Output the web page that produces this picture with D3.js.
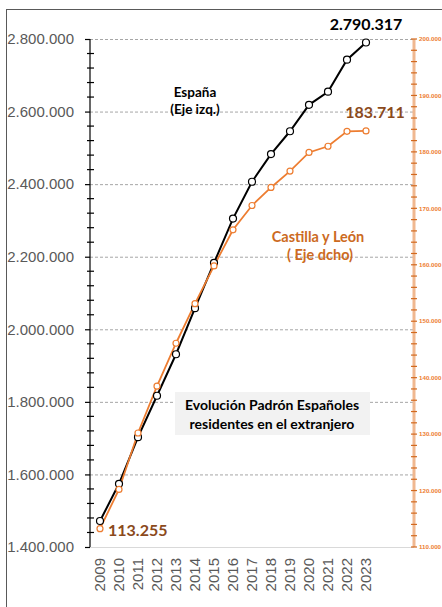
<!DOCTYPE html>
<html>
<head>
<meta charset="utf-8">
<script src="https://cdn.jsdelivr.net/npm/d3@7"></script>
<style>
    body { margin: 0; background: #fff; }
    svg { display: block; }
</style>
</head>
<body>
<svg id="chart" width="442" height="607"></svg>
<script>
// Data
let years = ['2009', '2010', '2011', '2012', '2013', '2014', '2015', '2016',
    '2017', '2018', '2019', '2020', '2021', '2022', '2023'];
let espana = [1471691, 1574123, 1702778, 1816835, 1931248, 2058048, 2183043,
    2305030, 2406611, 2482808, 2545729, 2618592, 2654723, 2742998, 2790317];
let castilla = [113255, 120200, 130200, 138500, 146100, 153100, 159800, 166200,
    170500, 173700, 176600, 179900, 181000, 183650, 183711];
let leftTicks = [1400000, 1600000, 1800000, 2000000, 2200000, 2400000, 2600000, 2800000];
let rightTicks = [110000, 120000, 130000, 140000, 150000, 160000, 170000, 180000, 190000, 200000];

let fmt = (v) => d3.format(',')(v).replace(/,/g, '.');

let svg = d3.select('#chart');

// Outer chart frame (runs off the right and bottom of the picture)
svg.append('rect')
    .attr('x', 6.5).attr('y', 9.5)
    .attr('width', 600).attr('height', 700)
    .attr('fill', 'none')
    .attr('stroke', '#595959')
    .attr('stroke-width', 1);

// Scales
let x = d3.scalePoint().domain(years).range([100, 366]);
let yL = d3.scaleLinear().domain([1400000, 2800000]).range([547, 39]);
let yR = d3.scaleLinear().domain([110000, 200000]).range([547, 39]);
let plotLeft = 90, plotRight = 414;

// Gridlines
svg.append('g')
    .selectAll('line')
    .data(leftTicks.slice(1))
    .enter()
    .append('line')
    .attr('x1', plotLeft).attr('x2', plotRight)
    .attr('y1', (d) => yL(d) + 0.5).attr('y2', (d) => yL(d) + 0.5)
    .attr('stroke', '#A6A6A6')
    .attr('stroke-dasharray', '3,2');

// Bottom axis line
svg.append('line')
    .attr('x1', plotLeft).attr('x2', plotRight)
    .attr('y1', 547.5).attr('y2', 547.5)
    .attr('stroke', '#D9D9D9');

// Left axis
let leftAxis = svg.append('g')
    .attr('transform', `translate(${plotLeft},0)`)
    .call(d3.axisLeft(yL).tickValues(leftTicks).tickFormat(fmt).tickSize(5).tickPadding(11))
    .call((g) => g.select('.domain').remove());
leftAxis.selectAll('line').attr('stroke', '#000').attr('stroke-width', 1.2);
leftAxis.selectAll('text')
    .attr('font-family', 'Liberation Sans, Arial, sans-serif')
    .attr('font-size', 15)
    .attr('fill', '#595959');
leftAxis.append('line')
    .attr('y1', yL(2800000)).attr('y2', yL(1400000))
    .attr('stroke', '#000').attr('stroke-width', 1.2);
leftAxis.selectAll('.minor')
    .data(d3.range(1440000, 2800000, 40000).filter((v) => v % 200000 !== 0))
    .enter()
    .append('line')
    .attr('x1', -3).attr('x2', 4)
    .attr('y1', (d) => yL(d)).attr('y2', (d) => yL(d))
    .attr('stroke', '#000').attr('stroke-width', 1.2);

// Right axis
let rightAxis = svg.append('g').attr('transform', `translate(${plotRight},0)`);
rightAxis.append('line')
    .attr('y1', yR(200000)).attr('y2', yR(110000))
    .attr('stroke', '#F0B890').attr('stroke-width', 3);
rightAxis.selectAll('.tick')
    .data(d3.range(110000, 200001, 2000))
    .enter()
    .append('line')
    .attr('x1', -3).attr('x2', 3)
    .attr('y1', (d) => yR(d)).attr('y2', (d) => yR(d))
    .attr('stroke', '#D2691E').attr('stroke-width', 1.2);
rightAxis.selectAll('text')
    .data(rightTicks)
    .enter()
    .append('text')
    .attr('x', 5)
    .attr('y', (d) => yR(d))
    .attr('dy', '0.35em')
    .attr('font-family', 'Liberation Sans, Arial, sans-serif')
    .attr('font-size', 6.2)
    .attr('font-weight', 'bold')
    .attr('fill', '#ED7D31')
    .text(fmt);

// Year labels
svg.append('g')
    .selectAll('text')
    .data(years)
    .enter()
    .append('text')
    .attr('transform', (d) => `translate(${x(d) + 5},558) rotate(-90)`)
    .attr('text-anchor', 'end')
    .attr('font-family', 'Liberation Sans, Arial, sans-serif')
    .attr('font-size', 15)
    .attr('fill', '#595959')
    .text((d) => d);

// Lines
let lineL = d3.line().x((d, i) => x(years[i])).y((d) => yL(d));
let lineR = d3.line().x((d, i) => x(years[i])).y((d) => yR(d));

svg.append('path')
    .datum(espana)
    .attr('fill', 'none')
    .attr('stroke', '#000')
    .attr('stroke-width', 2)
    .attr('d', lineL);

svg.append('path')
    .datum(castilla)
    .attr('fill', 'none')
    .attr('stroke', '#ED7D31')
    .attr('stroke-width', 1.8)
    .attr('d', lineR);

svg.append('g')
    .selectAll('circle')
    .data(espana)
    .enter()
    .append('circle')
    .attr('cx', (d, i) => x(years[i]))
    .attr('cy', (d) => yL(d))
    .attr('r', 3.5)
    .attr('fill', '#fff')
    .attr('stroke', '#000')
    .attr('stroke-width', 1.2);

svg.append('g')
    .selectAll('circle')
    .data(castilla)
    .enter()
    .append('circle')
    .attr('cx', (d, i) => x(years[i]))
    .attr('cy', (d) => yR(d))
    .attr('r', 3)
    .attr('fill', '#fff')
    .attr('stroke', '#ED7D31')
    .attr('stroke-width', 1.2);

// Annotations
let font = 'Lato, Open Sans, sans-serif';
let label = (txt, xPos, yPos, size, color, anchor = 'middle') => {
    svg.append('text')
        .attr('x', xPos).attr('y', yPos)
        .attr('text-anchor', anchor)
        .attr('font-family', font)
        .attr('font-weight', 'bold')
        .attr('font-size', size)
        .attr('fill', color)
        .text(txt);
};

label(fmt(espana[espana.length - 1]), 366, 30, 16, '#000');
label(fmt(castilla[castilla.length - 1]), 375, 118, 16, '#8B4A1C');
label(fmt(castilla[0]), 108, 536, 16, '#8B4A1C', 'start');

label('España', 195, 97, 13.5, '#000');
label('(Eje izq.)', 195, 114, 13.5, '#000');

label('Castilla y León', 318, 242, 14.5, '#CC6A22');
label('( Eje dcho)', 320, 260, 14.5, '#CC6A22');

// Title box
svg.append('rect')
    .attr('x', 175).attr('y', 392)
    .attr('width', 195).attr('height', 43)
    .attr('fill', '#F2F2F2');
label('Evolución Padrón Españoles', 272, 410, 14, '#000');
label('residentes en el extranjero', 272, 429, 14, '#000');
</script>
</body>
</html>
